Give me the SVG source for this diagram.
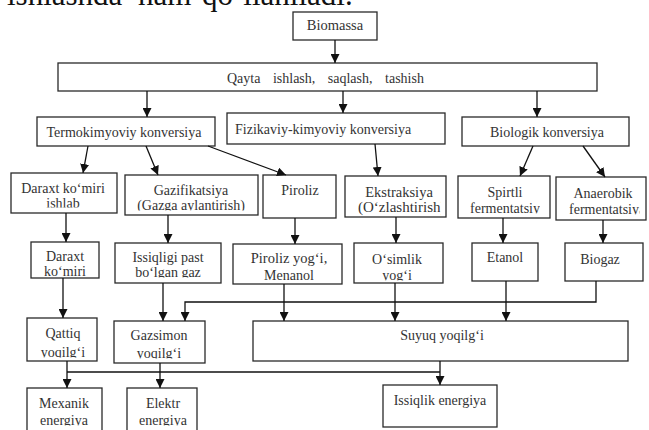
<svg xmlns="http://www.w3.org/2000/svg" width="649" height="430" viewBox="0 0 649 430">
<style>
  rect.box { fill: #fff; stroke: #2a2a2a; stroke-width: 1.3; }
  text { font-family: "Liberation Serif", "Times New Roman", serif; font-size: 14px; fill: #333; }
  text.c { text-anchor: middle; }
  .conn line, .conn polyline { stroke: #111; stroke-width: 1.3; fill: none; marker-end: url(#ah); }
  .conn line.plain { marker-end: none; }
  .top { font-size: 31px; fill: #111; }
</style>
<defs>
  <marker id="ah" viewBox="0 0 10 10" refX="10" refY="5" markerWidth="9" markerHeight="9" markerUnits="userSpaceOnUse" orient="auto">
    <path d="M0,0 L10,5 L0,10 z" fill="#111"/>
  </marker>
  <clipPath id="k-dki"><rect x="11" y="173" width="106" height="34.5"/></clipPath>
  <clipPath id="k-gaz"><rect x="125" y="175" width="133" height="35.5"/></clipPath>
  <clipPath id="k-eks"><rect x="345" y="176" width="95.5" height="41"/></clipPath>
  <clipPath id="k-spi"><rect x="458" y="176" width="82" height="37.5"/></clipPath>
  <clipPath id="k-ana"><rect x="556" y="177" width="83.5" height="37.5"/></clipPath>
  <clipPath id="k-iss"><rect x="115" y="243" width="106" height="34.5"/></clipPath>
  <clipPath id="k-osi"><rect x="354" y="243" width="89" height="37.5"/></clipPath>
  <clipPath id="k-qat"><rect x="27" y="318" width="70" height="39.5"/></clipPath>
  <clipPath id="k-gsi"><rect x="114" y="321" width="91" height="37.5"/></clipPath>
  <clipPath id="k-mex"><rect x="27" y="388" width="75" height="37.5"/></clipPath>
  <clipPath id="k-ele"><rect x="127" y="388" width="70" height="37.5"/></clipPath>
</defs>

<text class="top" y="5"><tspan x="7">ishlashda</tspan><tspan x="138">ham</tspan><tspan x="202">qo‘llaniladi.</tspan></text>

<g id="biomassa"><rect class="box" x="293" y="12" width="84" height="28"/><text class="c" x="335" y="30" style="font-size:14.5px">Biomassa</text></g>
<g id="qayta"><rect class="box" x="58" y="63" width="539" height="28"/><text x="227" y="83" style="word-spacing:9px">Qayta ishlash, saqlash, tashish</text></g>

<g id="termo"><rect class="box" x="37" y="117" width="178" height="29"/><text class="c" x="124" y="137">Termokimyoviy konversiya</text></g>
<g id="fizik"><rect class="box" x="227" y="113" width="218" height="31"/><text x="235" y="134">Fizikaviy-kimyoviy konversiya</text></g>
<g id="biolog"><rect class="box" x="462" y="117" width="167" height="29"/><text class="c" x="547" y="137">Biologik konversiya</text></g>

<g id="daraxt-ishlab"><rect class="box" x="11" y="173" width="106" height="40"/><text class="c" x="63" y="192.5">Daraxt ko‘miri</text><text class="c" x="63" y="207.5" clip-path="url(#k-dki)">ishlab</text></g>
<g id="gazifik"><rect class="box" x="125" y="175" width="133" height="40"/><text class="c" x="191" y="194.5">Gazifikatsiya</text><text class="c" x="191" y="209.5" clip-path="url(#k-gaz)">(Gazga aylantirish)</text></g>
<g id="piroliz"><rect class="box" x="263" y="175" width="73" height="43"/><text class="c" x="300" y="194.5">Piroliz</text></g>
<g id="ekstrak"><rect class="box" x="345" y="176" width="101" height="41"/><text class="c" x="399" y="196.5" style="font-size:14.5px">Ekstraksiya</text><text x="358" y="212" style="font-size:15px" clip-path="url(#k-eks)">(O‘zlashtirish)</text></g>
<g id="spirtli"><rect class="box" x="458" y="176" width="92" height="42"/><text class="c" x="505" y="196.5">Spirtli</text><text x="470" y="212.5" clip-path="url(#k-spi)">fermentatsiya</text></g>
<g id="anaerob"><rect class="box" x="556" y="177" width="90" height="43"/><text class="c" x="603" y="197.5">Anaerobik</text><text x="569" y="213.5" clip-path="url(#k-ana)">fermentatsiya</text></g>

<g id="daraxt-komiri"><rect class="box" x="31" y="242" width="68" height="36"/><text class="c" x="65" y="260.5">Daraxt</text><text class="c" x="65" y="276">ko‘miri</text></g>
<g id="issiqligi"><rect class="box" x="115" y="243" width="106" height="40"/><text class="c" x="168" y="261.5">Issiqligi past</text><text class="c" x="168" y="276.5" clip-path="url(#k-iss)">bo‘lgan gaz</text></g>
<g id="piroliz-yogi"><rect class="box" x="233" y="244" width="109" height="40"/><text class="c" x="289" y="262.5" style="font-size:14.5px">Piroliz yog‘i,</text><text class="c" x="289" y="279.5">Menanol</text></g>
<g id="osimlik"><rect class="box" x="354" y="243" width="89" height="40"/><text class="c" x="397" y="263.5">O‘simlik</text><text class="c" x="397" y="279.5" clip-path="url(#k-osi)">yog‘i</text></g>
<g id="etanol"><rect class="box" x="472" y="243" width="66" height="38"/><text class="c" x="505" y="262">Etanol</text></g>
<g id="biogaz"><rect class="box" x="565" y="243" width="78" height="38"/><text class="c" x="600" y="264">Biogaz</text></g>

<g id="qattiq"><rect class="box" x="27" y="318" width="70" height="43"/><text class="c" x="63" y="337.5">Qattiq</text><text class="c" x="63" y="356.5" clip-path="url(#k-qat)">yoqilg‘i</text></g>
<g id="gazsimon"><rect class="box" x="114" y="321" width="91" height="42"/><text class="c" x="159" y="339.5">Gazsimon</text><text class="c" x="159" y="357.5" clip-path="url(#k-gsi)">yoqilg‘i</text></g>
<g id="suyuq"><rect class="box" x="253" y="321" width="375" height="40"/><text class="c" x="442" y="339.5">Suyuq yoqilg‘i</text></g>

<g id="mexanik"><rect class="box" x="27" y="388" width="75" height="46"/><text class="c" x="64" y="407.5">Mexanik</text><text class="c" x="64" y="424.5" clip-path="url(#k-mex)">energiya</text></g>
<g id="elektr"><rect class="box" x="127" y="388" width="70" height="46"/><text class="c" x="163" y="407.5">Elektr</text><text class="c" x="163" y="424.5" clip-path="url(#k-ele)">energiya</text></g>
<g id="issiqlik"><rect class="box" x="383" y="385" width="114" height="42"/><text class="c" x="440" y="404.5">Issiqlik energiya</text></g>

<g id="connectors" class="conn">
  <line x1="335" y1="40" x2="335" y2="63"/>
  <line x1="147" y1="91" x2="147" y2="117"/>
  <line x1="343" y1="91" x2="343" y2="113"/>
  <line x1="537" y1="91" x2="537" y2="117"/>
  <line x1="88" y1="146" x2="83" y2="173"/>
  <line x1="146" y1="146" x2="158" y2="175"/>
  <line x1="208" y1="146" x2="286" y2="175"/>
  <line x1="375" y1="144" x2="378" y2="176"/>
  <line x1="533" y1="146" x2="520" y2="176"/>
  <line x1="583" y1="146" x2="605" y2="177"/>
  <line x1="66" y1="213" x2="66" y2="242"/>
  <line x1="168" y1="215" x2="168" y2="243"/>
  <line x1="295" y1="218" x2="295" y2="244"/>
  <line x1="396" y1="217" x2="396" y2="243"/>
  <line x1="503" y1="218" x2="503" y2="243"/>
  <line x1="603" y1="220" x2="603" y2="243"/>
  <line x1="63" y1="278" x2="63" y2="318"/>
  <line x1="163" y1="283" x2="163" y2="321"/>
  <line x1="284" y1="284" x2="284" y2="321"/>
  <line x1="395" y1="283" x2="395" y2="321"/>
  <line x1="506" y1="281" x2="506" y2="321"/>
  <polyline points="596,281 596,302 185,302 185,321"/>
  <line x1="67" y1="361" x2="67" y2="388"/>
  <line x1="160" y1="363" x2="160" y2="388"/>
  <line x1="440" y1="361" x2="440" y2="385"/>
  <line class="plain" x1="67" y1="372" x2="440" y2="372"/>
</g>
</svg>
